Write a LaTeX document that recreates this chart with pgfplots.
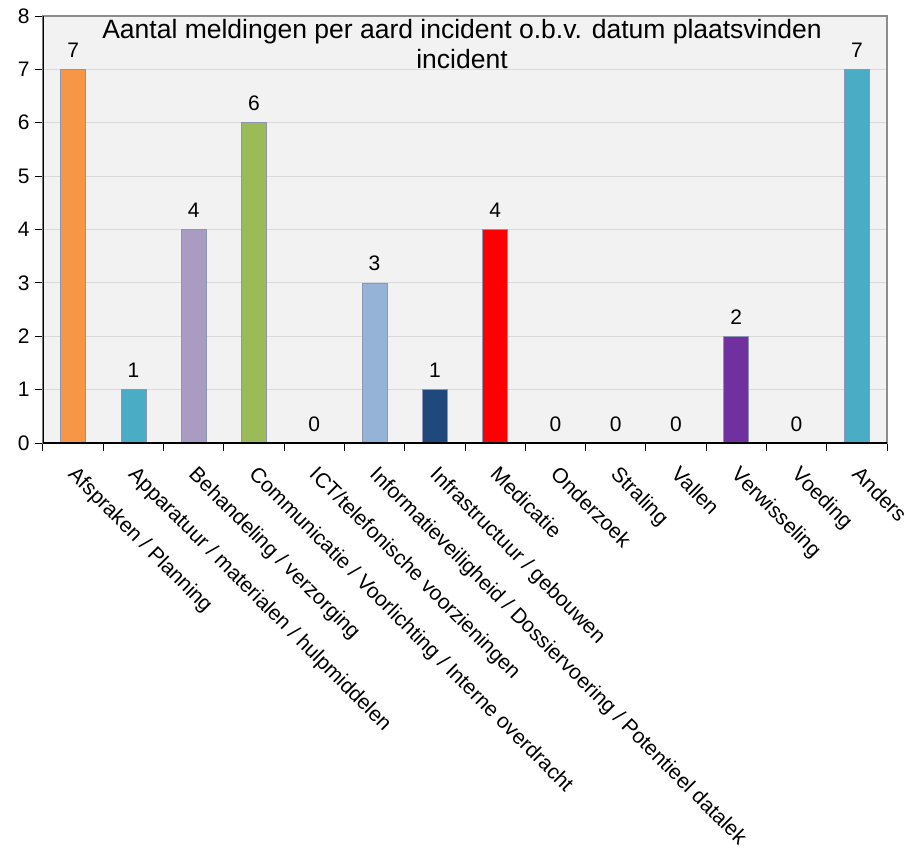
\documentclass[border=0pt]{standalone}
\usepackage{pgfplots}
\pgfplotsset{compat=1.18}
\usepackage{pgfplotstable}
\usepackage{fontspec}
\setmainfont{Liberation Sans}

\definecolor{cOrange}{HTML}{F79646}
\definecolor{cTeal}{HTML}{4BACC6}
\definecolor{cLav}{HTML}{A99BC1}
\definecolor{cGreen}{HTML}{9BBB59}
\definecolor{cLBlue}{HTML}{95B3D7}
\definecolor{cDBlue}{HTML}{1F497D}
\definecolor{cRed}{HTML}{FF0000}
\definecolor{cPurple}{HTML}{7030A0}
\definecolor{cBorder}{HTML}{8C96B4}
\definecolor{cGrid}{HTML}{D9D9D9}
\definecolor{cBg}{HTML}{F2F2F2}
\definecolor{cFrame}{HTML}{8C8C8C}

\pgfplotstableread{
x y
0 7
1 1
2 4
3 6
4 0
5 3
6 1
7 4
8 0
9 0
10 0
11 2
12 0
13 7
}\data

\begin{document}
\begin{tikzpicture}
\useasboundingbox (-43pt,443pt) rectangle (867pt,-409pt);
\begin{axis}[
  at={(0,0)}, anchor=south west,
  scale only axis, width=844pt, height=427pt,
  xmin=-0.5, xmax=13.5, ymin=0, ymax=8,
  ytick={0,1,...,8},
  xtick={0,1,...,13},
  xticklabels={Afspraken / Planning, Apparatuur / materialen / hulpmiddelen, Behandeling / verzorging, Communicatie / Voorlichting / Interne overdracht, ICT/telefonische voorzieningen, Informatieveiligheid / Dossiervoering / Potentieel datalek, Infrastructuur / gebouwen, Medicatie, Onderzoek, Straling, Vallen, Verwisseling, Voeding, Anders},
  minor xtick={-0.5,0.5,...,13.5},
  xtick pos=left, ytick pos=left,
  tick align=outside,
  major tick length=8pt, minor tick length=8pt,
  tick style={black, line width=1pt},
  every major x tick/.style={draw=none},
  xticklabel style={rotate=-45, anchor=north west, font=\fontsize{21}{24}\selectfont, xshift=10pt, yshift=-3pt},
  yticklabel style={font=\fontsize{21}{24}\selectfont, xshift=-2pt},
  /pgf/number format/assume math mode=true,
  ymajorgrids, grid style={draw=cGrid, line width=1pt},
  axis background/.style={fill=cBg},
  axis line style={draw=cFrame, line width=1.5pt},
  title={Aantal meldingen per aard incident o.b.v. datum plaatsvinden\\incident},
  title style={at={(0.5,1)}, anchor=north, align=center, font=\fontsize{26.5}{30}\selectfont, yshift=-7pt, xshift=-3pt, inner sep=2pt},
  every axis plot/.append style={ybar, bar width=25pt, bar shift=0pt, draw=cBorder, line width=0.75pt},
]
\addplot[fill=cOrange] coordinates {(0,7)};
\addplot[fill=cTeal] coordinates {(1,1)};
\addplot[fill=cLav] coordinates {(2,4)};
\addplot[fill=cGreen] coordinates {(3,6)};
\addplot[fill=cLBlue] coordinates {(5,3)};
\addplot[fill=cDBlue] coordinates {(6,1)};
\addplot[fill=cRed] coordinates {(7,4)};
\addplot[fill=cPurple] coordinates {(11,2)};
\addplot[fill=cTeal] coordinates {(13,7)};
\addplot[draw=none, fill=none, nodes near coords,
  nodes near coords style={font=\fontsize{21}{24}\selectfont, text=black, yshift=8pt}] table[x=x,y=y] {\data};
\draw[black, line width=1.5pt] (rel axis cs:0,1) -- (rel axis cs:0,0) -- (rel axis cs:1,0);
\end{axis}
\end{tikzpicture}
\end{document}
